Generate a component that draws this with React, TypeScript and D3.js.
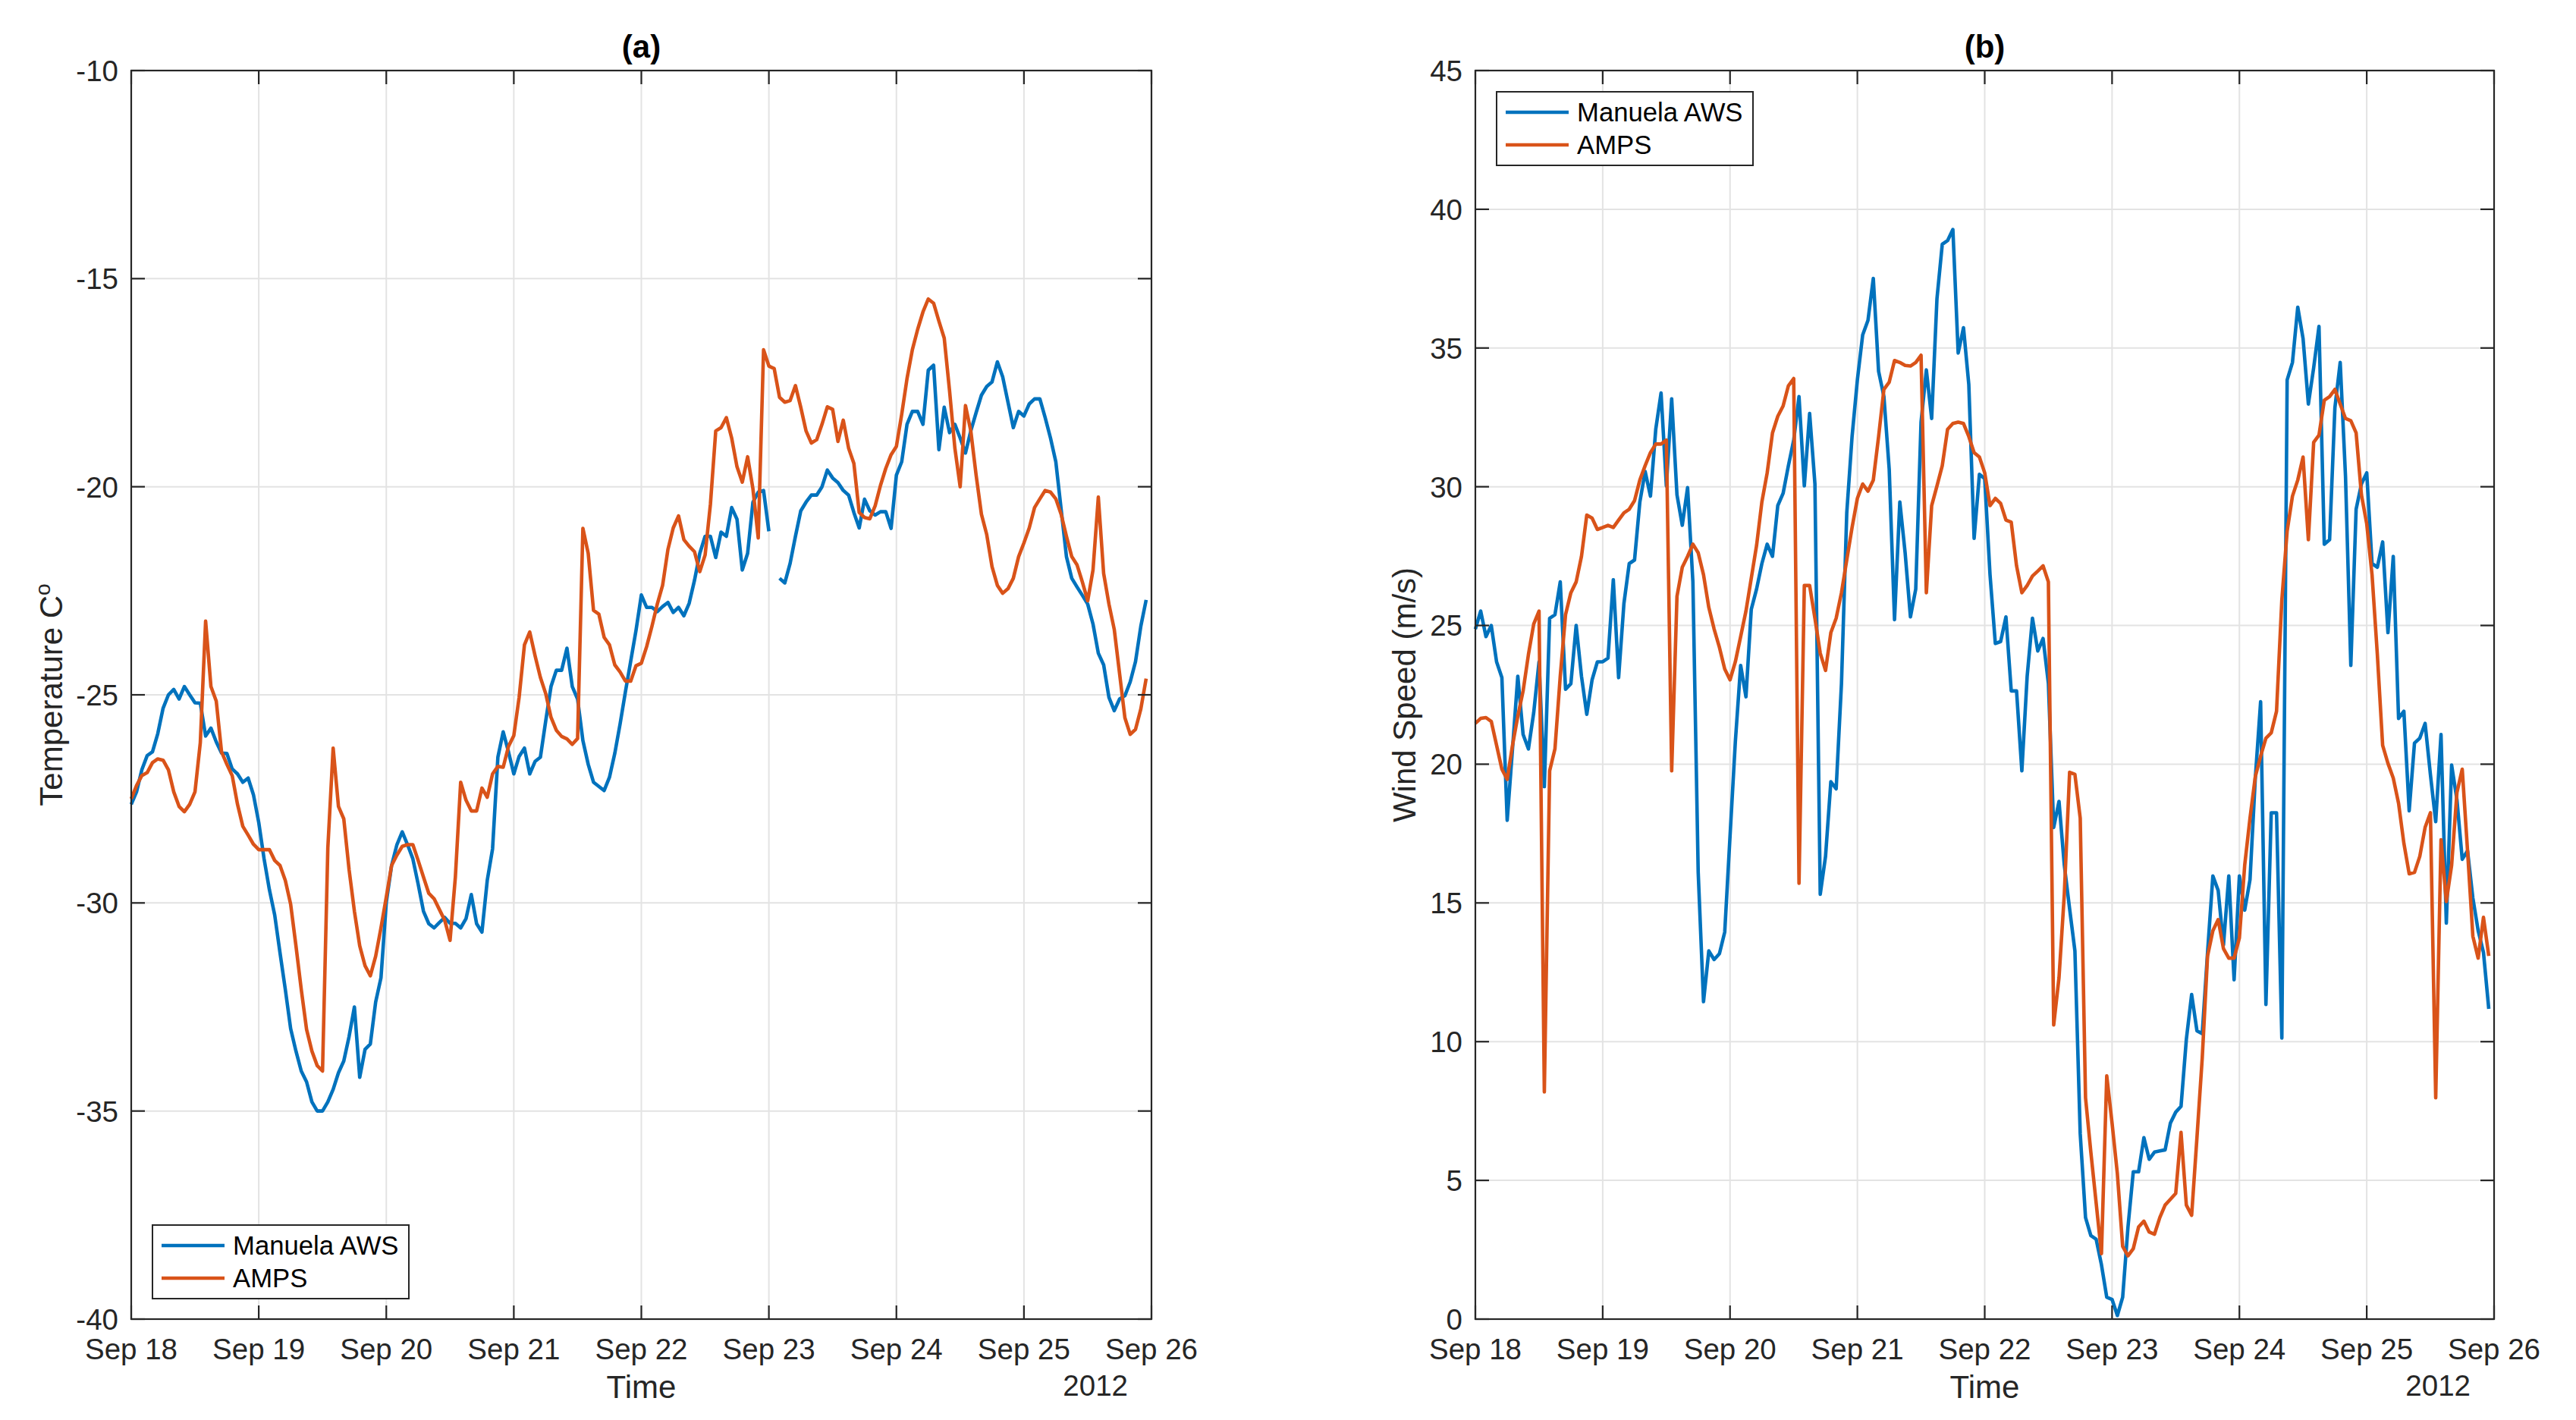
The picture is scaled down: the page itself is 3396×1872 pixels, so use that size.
import React from 'react';
import * as d3 from 'd3';

// hourly series, Sep 18 00:00 .. Sep 25 23:00 (2012)
const START = new Date(Date.UTC(2012, 8, 18));
const END = new Date(Date.UTC(2012, 8, 26));

const tempAWS = [
  -27.63, -27.33, -26.8, -26.46, -26.37, -25.93, -25.32, -25.0, -24.87, -25.1, -24.8, -25.0,
  -25.19, -25.2, -25.99, -25.8, -26.13, -26.4, -26.41, -26.78, -26.9, -27.1, -27.0, -27.4,
  -28.07, -28.94, -29.68, -30.29, -31.2, -32.08, -33.02, -33.56, -34.04, -34.3, -34.78, -35.0,
  -35.0, -34.78, -34.48, -34.08, -33.8, -33.21, -32.5, -34.19, -33.52, -33.39, -32.38, -31.8,
  -29.99, -29.1, -28.6, -28.29, -28.6, -28.94, -29.55, -30.2, -30.5, -30.6, -30.47, -30.35,
  -30.49, -30.49, -30.6, -30.38, -29.8, -30.5, -30.7, -29.46, -28.7, -26.5, -25.89, -26.37,
  -26.9, -26.48, -26.28, -26.9, -26.6, -26.5, -25.63, -24.8, -24.41, -24.41, -23.88, -24.8,
  -25.1, -26.1, -26.67, -27.1, -27.2, -27.3, -26.98, -26.41, -25.7, -24.93, -24.19, -23.45,
  -22.6, -22.9, -22.9, -23.0, -22.88, -22.78, -23.02, -22.9, -23.1, -22.8, -22.25, -21.6,
  -21.19, -21.19, -21.7, -21.09, -21.19, -20.5, -20.78, -22.0, -21.6, -20.37, -20.13, -20.09,
  -21.07, NaN, -22.2, -22.31, -21.84, -21.19, -20.58, -20.37, -20.2, -20.2, -20.0, -19.6,
  -19.79, -19.9, -20.09, -20.2, -20.62, -20.99, -20.3, -20.58, -20.68, -20.6, -20.6, -21.0,
  -19.72, -19.4, -18.5, -18.19, -18.19, -18.5, -17.2, -17.08, -19.11, -18.09, -18.7, -18.5,
  -18.83, -19.19, -18.66, -18.22, -17.8, -17.59, -17.48, -17.0, -17.36, -17.97, -18.58, -18.19,
  -18.3, -18.01, -17.89, -17.89, -18.34, -18.83, -19.4, -20.54, -21.68, -22.2, -22.41, -22.61,
  -22.82, -23.3, -24.0, -24.28, -25.06, -25.38, -25.1, -25.02, -24.69, -24.2, -23.35, -22.72,
];

const tempAMPS = [
  -27.5, -27.18, -26.94, -26.87, -26.63, -26.54, -26.57, -26.8, -27.33, -27.68, -27.81, -27.63,
  -27.33, -26.15, -23.23, -24.8, -25.15, -26.37, -26.67, -26.94, -27.63, -28.16, -28.37, -28.59,
  -28.72, -28.72, -28.72, -28.98, -29.1, -29.46, -30.03, -31.03, -32.08, -33.04, -33.56, -33.91,
  -34.04, -28.68, -26.28, -27.68, -27.98, -29.2, -30.2, -31.03, -31.51, -31.75, -31.28, -30.6,
  -29.86, -29.1, -28.85, -28.64, -28.6, -28.6, -28.98, -29.38, -29.77, -29.9, -30.16, -30.42,
  -30.9, -29.38, -27.1, -27.53, -27.79, -27.79, -27.24, -27.46, -26.9, -26.72, -26.74, -26.24,
  -25.98, -25.06, -23.8, -23.49, -24.06, -24.58, -24.97, -25.54, -25.85, -26.0, -26.06, -26.19,
  -26.05, -21.0, -21.6, -22.97, -23.06, -23.62, -23.8, -24.28, -24.45, -24.67, -24.67, -24.3,
  -24.24, -23.84, -23.35, -22.82, -22.37, -21.51, -20.99, -20.7, -21.27, -21.43, -21.56, -22.04,
  -21.64, -20.42, -18.66, -18.58, -18.34, -18.83, -19.52, -19.89, -19.28, -20.05, -21.23, -16.71,
  -17.1, -17.16, -17.85, -17.97, -17.93, -17.57, -18.09, -18.66, -18.95, -18.87, -18.5, -18.08,
  -18.14, -18.91, -18.4, -19.07, -19.44, -20.62, -20.74, -20.77, -20.46, -19.97, -19.56, -19.23,
  -19.03, -18.26, -17.4, -16.71, -16.22, -15.8, -15.49, -15.59, -16.02, -16.43, -17.69, -19.07,
  -20.0, -18.05, -18.66, -19.72, -20.66, -21.15, -21.92, -22.37, -22.56, -22.45, -22.2, -21.68,
  -21.35, -20.99, -20.5, -20.29, -20.09, -20.13, -20.29, -20.66, -21.19, -21.68, -21.88, -22.29,
  -22.74, -22.0, -20.25, -22.08, -22.82, -23.43, -24.49, -25.55, -25.95, -25.83, -25.34, -24.61,
];

const windAWS = [
  24.87, 25.52, 24.6, 25.0, 23.69, 23.12, 17.98, 20.55, 23.17, 21.07, 20.55, 21.86,
  23.69, 19.19, 25.26, 25.39, 26.57, 22.7, 22.9, 25.0, 23.17, 21.8, 23.04, 23.69,
  23.69, 23.82, 26.65, 23.12, 25.79, 27.23, 27.36, 29.45, 30.55, 29.66, 32.07, 33.38,
  30.03, 33.17, 29.71, 28.61, 29.97, 26.57, 16.1, 11.44, 13.27, 12.96, 13.17, 13.95,
  17.41, 20.81, 23.56, 22.43, 25.58, 26.31, 27.23, 27.93, 27.49, 29.32, 29.76, 30.76,
  31.68, 33.25, 30.03, 32.64, 30.1, 15.31, 16.68, 19.37, 19.11, 22.9, 29.06, 31.81,
  33.85, 35.47, 36.0, 37.51, 34.16, 33.25, 30.63, 25.21, 29.45, 27.62, 25.31, 26.31,
  32.33, 34.21, 32.46, 36.78, 38.74, 38.87, 39.27, 34.82, 35.73, 33.69, 28.14, 30.45,
  30.29, 26.83, 24.35, 24.42, 25.31, 22.64, 22.64, 19.76, 23.17, 25.26, 24.08, 24.53,
  22.91, 17.72, 18.66, 16.36, 14.79, 13.27, 6.68, 3.66, 3.01, 2.88, 1.96, 0.79,
  0.71, 0.13, 0.79, 3.32, 5.31, 5.31, 6.54, 5.76, 6.02, 6.06, 6.1, 7.07,
  7.46, 7.67, 10.08, 11.7, 10.39, 10.29, 13.22, 15.97, 15.45, 13.48, 15.97, 12.23,
  15.97, 14.74, 15.84, 19.5, 22.25, 11.34, 18.25, 18.25, 10.13, 33.85, 34.48, 36.47,
  35.34, 32.98, 34.29, 35.78, 27.93, 28.09, 32.85, 34.48, 30.37, 23.56, 29.19, 30.1,
  30.5, 27.23, 27.1, 28.01, 24.74, 27.49, 21.65, 21.91, 18.32, 20.76, 20.94, 21.47,
  19.63, 17.93, 21.07, 14.27, 19.97, 18.72, 16.57, 16.88, 15.18, 14.0, 13.22, 11.18,
];

const windAMPS = [
  21.47, 21.65, 21.68, 21.54, 20.68, 19.82, 19.45, 20.68, 21.73, 22.64, 23.95, 25.05,
  25.52, 8.19, 19.76, 20.55, 23.17, 25.39, 26.18, 26.57, 27.49, 28.98, 28.87, 28.46,
  28.53, 28.61, 28.53, 28.8, 29.06, 29.19, 29.5, 30.24, 30.76, 31.23, 31.54, 31.54,
  31.68, 19.76, 26.05, 27.1, 27.49, 27.93, 27.62, 26.83, 25.65, 24.87, 24.21, 23.43,
  23.04, 23.69, 24.6, 25.52, 26.7, 27.88, 29.45, 30.5, 31.94, 32.54, 32.91, 33.64,
  33.9, 15.71, 26.44, 26.44, 25.26, 24.0, 23.38, 24.74, 25.26, 26.18, 27.36, 28.53,
  29.58, 30.1, 29.84, 30.24, 31.81, 33.51, 33.77, 34.55, 34.48, 34.37, 34.35, 34.48,
  34.74, 26.18, 29.32, 30.03, 30.76, 32.07, 32.28, 32.33, 32.28, 31.81, 31.23, 31.07,
  30.5, 29.32, 29.58, 29.4, 28.8, 28.72, 27.15, 26.18, 26.44, 26.78, 26.96, 27.15,
  26.57, 10.6, 12.3, 15.31, 19.71, 19.63, 18.06, 7.98, 6.02, 4.19, 2.36, 8.77,
  7.07, 5.24, 2.62, 2.28, 2.54, 3.32, 3.53, 3.14, 3.06, 3.66, 4.11, 4.32,
  4.53, 6.73, 4.11, 3.74, 6.54, 9.42, 13.09, 14.0, 14.4, 13.35, 13.01, 13.01,
  13.74, 16.36, 18.06, 19.55, 20.29, 20.94, 21.13, 21.91, 25.92, 28.4, 29.66, 30.24,
  31.07, 28.09, 31.6, 31.86, 33.12, 33.25, 33.51, 32.98, 32.46, 32.38, 31.94, 29.71,
  28.66, 26.83, 23.95, 20.68, 20.03, 19.5, 18.59, 17.15, 16.05, 16.1, 16.68, 17.72,
  18.25, 7.98, 17.28, 15.05, 16.36, 18.98, 19.82, 16.88, 13.8, 13.01, 14.48, 13.09,
];

const seriesNames = ['Manuela AWS', 'AMPS'];
const seriesColors = ['#0072BD', '#D95319'];
const tempTicks = [-40, -35, -30, -25, -20, -15, -10];
const windTicks = [0, 5, 10, 15, 20, 25, 30, 35, 40, 45];

const W = 3396;
const H = 1872;
const FONT = '"Liberation Sans", Arial, Helvetica, sans-serif';
const INK = '#262626';
const GRID = '#e3e3e3';
const TICK_LEN = 18;

const hourTime = (i: number) => new Date(START.getTime() + i * 3600 * 1000);

interface PanelProps {
  left: number;
  right: number;
  top: number;
  bottom: number;
  domain: [number, number];
  ticks: number[];
  series: number[][];
  title: string;
  yLabel: React.ReactNode;
  yLabelX: number;
  legendAt: 'top' | 'bottom';
}

const Panel: React.FC<PanelProps> = ({
  left, right, top, bottom, domain, ticks, series, title, yLabel, yLabelX, legendAt,
}) => {
  const x = d3.scaleUtc().domain([START, END]).range([left, right]);
  const y = d3.scaleLinear().domain(domain).range([bottom, top]);
  const days = d3.utcDay.range(START, d3.utcDay.offset(END, 1));
  const fmt = d3.utcFormat('%b %d');

  const line = d3
    .line<number>()
    .defined((v) => v != null && !isNaN(v))
    .x((_, i) => x(hourTime(i)))
    .y((v) => y(v));

  const lgW = 338;
  const lgH = 97;
  const lgX = left + 28;
  const lgY = legendAt === 'top' ? top + 28 : bottom - 27 - lgH;

  return (
    <g>
      {/* grid */}
      {days.slice(1, -1).map((d) => (
        <line key={'gx' + d.getTime()} x1={x(d)} x2={x(d)} y1={top} y2={bottom} stroke={GRID} strokeWidth={2} />
      ))}
      {ticks.slice(1, -1).map((t) => (
        <line key={'gy' + t} x1={left} x2={right} y1={y(t)} y2={y(t)} stroke={GRID} strokeWidth={2} />
      ))}

      {/* data */}
      {series.map((s, k) => (
        <path
          key={'s' + k}
          d={line(s) || ''}
          fill="none"
          stroke={seriesColors[k]}
          strokeWidth={4.6}
          strokeLinejoin="round"
        />
      ))}

      {/* box and ticks */}
      <rect x={left} y={top} width={right - left} height={bottom - top} fill="none" stroke={INK} strokeWidth={2.2} />
      {days.map((d) => (
        <g key={'tx' + d.getTime()}>
          <line x1={x(d)} x2={x(d)} y1={bottom} y2={bottom - TICK_LEN} stroke={INK} strokeWidth={2.2} />
          <line x1={x(d)} x2={x(d)} y1={top} y2={top + TICK_LEN} stroke={INK} strokeWidth={2.2} />
          <text x={x(d)} y={bottom + 53} textAnchor="middle" fontSize={38.5} fill={INK}>
            {fmt(d)}
          </text>
        </g>
      ))}
      {ticks.map((t) => (
        <g key={'ty' + t}>
          <line x1={left} x2={left + TICK_LEN} y1={y(t)} y2={y(t)} stroke={INK} strokeWidth={2.2} />
          <line x1={right} x2={right - TICK_LEN} y1={y(t)} y2={y(t)} stroke={INK} strokeWidth={2.2} />
          <text x={left - 17} y={y(t)} dy="0.36em" textAnchor="end" fontSize={38.5} fill={INK}>
            {String(t)}
          </text>
        </g>
      ))}

      {/* labels */}
      <text x={(left + right) / 2} y={bottom + 104} textAnchor="middle" fontSize={42} fill={INK}>
        Time
      </text>
      <text x={right - 31} y={bottom + 101} textAnchor="end" fontSize={38.5} fill={INK}>
        2012
      </text>
      <text x={(left + right) / 2} y={top - 17} textAnchor="middle" fontSize={42} fontWeight="bold" fill="#000">
        {title}
      </text>
      <text
        transform={`translate(${yLabelX},${(top + bottom) / 2}) rotate(-90)`}
        textAnchor="middle"
        fontSize={42}
        fill={INK}
      >
        {yLabel}
      </text>

      {/* legend */}
      <rect x={lgX} y={lgY} width={lgW} height={lgH} fill="#fff" stroke={INK} strokeWidth={2} />
      {seriesNames.map((name, k) => {
        const ly = lgY + 27 + k * 43;
        return (
          <g key={'lg' + k}>
            <line x1={lgX + 12} x2={lgX + 95} y1={ly} y2={ly} stroke={seriesColors[k]} strokeWidth={4.6} />
            <text x={lgX + 106} y={ly} dy="0.36em" fontSize={34.7} fill="#000">
              {name}
            </text>
          </g>
        );
      })}
    </g>
  );
};

export default function App() {
  return (
    <div style={{ position: 'absolute', left: 0, top: 0, width: W, height: H, background: '#fff' }}>
      <svg width={W} height={H} viewBox={`0 0 ${W} ${H}`} style={{ display: 'block', fontFamily: FONT }}>
        <rect x={0} y={0} width={W} height={H} fill="#fff" />
        <Panel
          left={173}
          right={1518}
          top={93}
          bottom={1739}
          domain={[-40, -10]}
          ticks={tempTicks}
          series={[tempAWS, tempAMPS]}
          title="(a)"
          yLabelX={82}
          yLabel={
            <>
              Temperature C
              <tspan fontSize={28} dy={-16}>o</tspan>
            </>
          }
          legendAt="bottom"
        />
        <Panel
          left={1945}
          right={3288}
          top={93}
          bottom={1739}
          domain={[0, 45]}
          ticks={windTicks}
          series={[windAWS, windAMPS]}
          title="(b)"
          yLabelX={1866}
          yLabel="Wind Speed (m/s)"
          legendAt="top"
        />
      </svg>
    </div>
  );
}
